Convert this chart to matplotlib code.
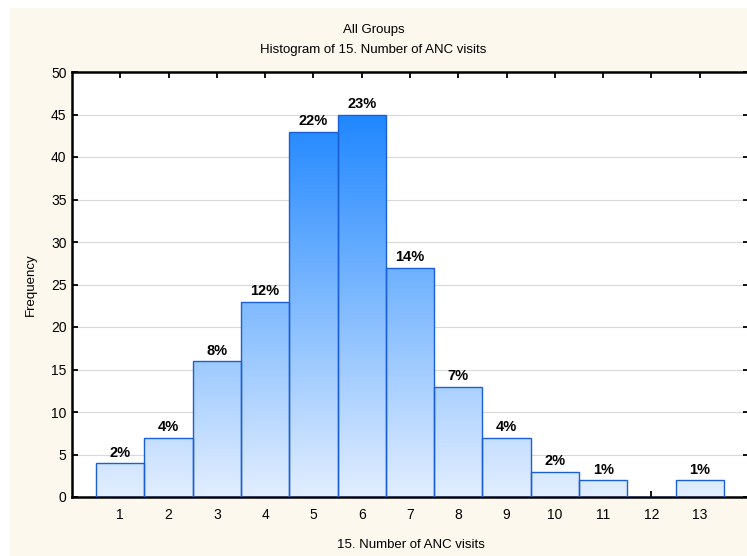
import numpy as np
import matplotlib
matplotlib.use('Agg')
from matplotlib import pyplot as plt
from matplotlib.colors import LinearSegmentedColormap
from matplotlib.patches import Rectangle

visits = [1, 2, 3, 4, 5, 6, 7, 8, 9, 10, 11, 12, 13]
counts = [4, 7, 16, 23, 43, 45, 27, 13, 7, 3, 2, 0, 2]
yticks = [0, 5, 10, 15, 20, 25, 30, 35, 40, 45, 50]

W, H = 747, 556
fig = plt.figure(figsize=(W / 100, H / 100), dpi=100)
fig.patch.set_facecolor('white')
fig.patches.append(Rectangle((10 / W, 0), 1, (H - 8) / H, transform=fig.transFigure,
                             facecolor='#fdf8ee', edgecolor='none', zorder=-10))

# right spine sits just past the image edge, like in the original export
ax = fig.add_axes([72 / W, 1 - 497 / H, 677 / W, 425 / H])
ax.set_facecolor('white')
ax.set_xlim(0, 14.02)
ax.set_ylim(0, 50)

plt.rcParams['font.family'] = 'Liberation Sans'

cmap = LinearSegmentedColormap.from_list('blu', ['#e2eeff', '#1a84ff'])
grad = np.linspace(0, 1.08, 256).reshape(-1, 1)

total = sum(counts)
bars = ax.bar(visits, counts, width=1.0, facecolor='none', edgecolor='#1a5fd6',
              linewidth=1.0, zorder=3)
for b, c, v in zip(bars, counts, visits):
    if c == 0:
        continue
    im = ax.imshow(grad, cmap=cmap, vmin=0, vmax=1, aspect='auto', origin='lower',
                   extent=(0, 14, 0, 50), zorder=2)
    im.set_clip_path(b)
    ax.text(v, c + 0.4, f'{round(100 * c / total)}%', ha='center', va='bottom',
            fontsize=10.5, fontweight='bold', family='Liberation Sans')

ax.set_xticks(visits)
ax.set_yticks(yticks)
ax.set_xticklabels([str(v) for v in visits], fontsize=10, family='Liberation Sans')
ax.set_yticklabels([str(t) for t in yticks], fontsize=10, family='Liberation Sans')
ax.tick_params(direction='in', length=4, width=1.3, top=True, right=True, pad=8)
ax.tick_params(axis='y', pad=4)
ax.grid(True, axis='y', color='#d9d9d9', linewidth=0.8, zorder=0)
ax.set_axisbelow(True)
for s in ax.spines.values():
    s.set_linewidth(1.8)

ax.set_xlabel('15. Number of ANC visits', fontsize=9.5, family='Liberation Sans', labelpad=12)
ax.set_ylabel('Frequency', fontsize=9.5, family='Liberation Sans', labelpad=10)
fig.text(0.5, 1 - 30 / H, 'All Groups', ha='center', va='center', fontsize=9.5,
         family='Liberation Sans')
fig.text(0.5, 1 - 50 / H, 'Histogram of 15. Number of ANC visits', ha='center', va='center',
         fontsize=9.5, family='Liberation Sans')

plt.savefig('out.png', dpi=100, facecolor=fig.get_facecolor())
plt.close('all')
